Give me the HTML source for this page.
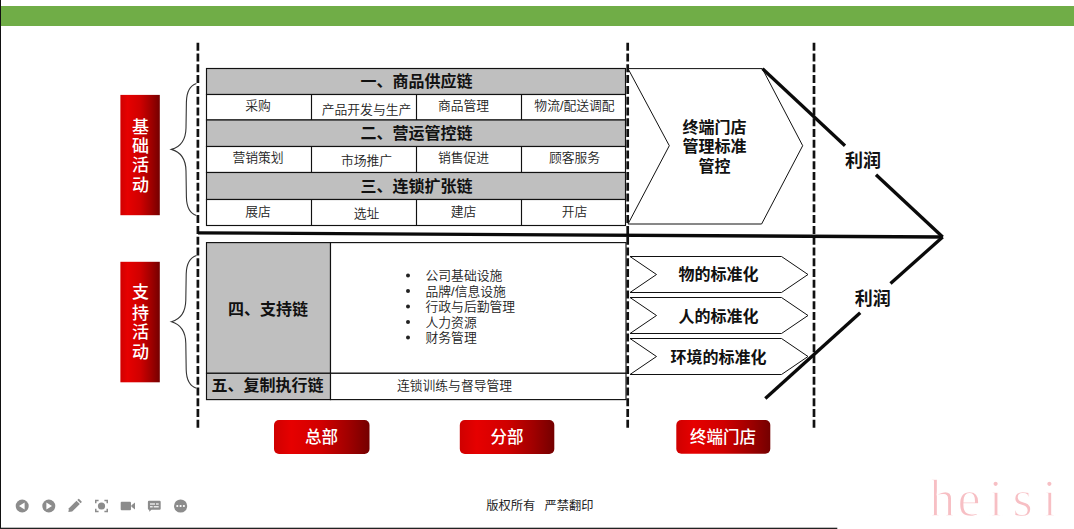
<!DOCTYPE html>
<html lang="zh-CN">
<head>
<meta charset="utf-8">
<title>连锁价值链</title>
<style>
html,body{margin:0;padding:0;background:#fff;}
body{width:1074px;height:529px;overflow:hidden;position:relative;font-family:"Liberation Sans","Noto Sans CJK SC",sans-serif;}
svg{position:absolute;left:0;top:0;display:block;}
text{font-family:"Liberation Sans","Noto Sans CJK SC",sans-serif;}
.h{font-weight:700;font-size:16px;fill:#111;text-anchor:middle;}
.c{font-weight:350;font-size:12.8px;fill:#222;text-anchor:middle;}
.b{font-weight:350;font-size:12.8px;fill:#222;}
.v{font-weight:500;font-size:17px;fill:#fff;text-anchor:middle;}
.btn{font-weight:500;font-size:16.500px;fill:#fff;text-anchor:middle;}
.p{font-weight:700;font-size:18px;fill:#111;text-anchor:middle;}
.s{font-weight:700;font-size:16px;fill:#111;text-anchor:middle;}
</style>
</head>
<body>
<svg width="1074" height="529" viewBox="0 0 1074 529">
<defs>
<linearGradient id="rg" x1="0" y1="0" x2="1" y2="0">
<stop offset="0" stop-color="#cf0000"/>
<stop offset="0.18" stop-color="#e60000"/>
<stop offset="0.5" stop-color="#d00000"/>
<stop offset="0.78" stop-color="#a00000"/>
<stop offset="1" stop-color="#740000"/>
</linearGradient>
</defs>
<!-- frame -->
<rect x="0" y="0" width="1074" height="529" fill="#fff"/>
<rect x="0" y="6" width="1074" height="20" fill="#70ad47"/>
<rect x="0" y="0" width="1" height="529" fill="#111"/>
<rect x="0" y="527.700" width="837.300" height="1.300" fill="#222"/>

<!-- dashed verticals -->
<g stroke="#111" stroke-width="2.700" stroke-dasharray="8 2.770" fill="none">
<line x1="197.900" y1="42.800" x2="197.900" y2="427.900"/>
<line x1="627.700" y1="42.800" x2="627.700" y2="427.900"/>
<line x1="814" y1="42.800" x2="814" y2="427.900"/>
</g>

<!-- upper table -->
<g stroke="#111" stroke-width="1.150">
<rect x="206.5" y="68.5" width="419" height="26" fill="#bfbfbf"/>
<rect x="206.5" y="94.5" width="419" height="25.5" fill="#fff"/>
<rect x="206.5" y="120" width="419" height="26.5" fill="#bfbfbf"/>
<rect x="206.5" y="146.5" width="419" height="26" fill="#fff"/>
<rect x="206.5" y="172.5" width="419" height="27" fill="#bfbfbf"/>
<rect x="206.5" y="199.5" width="419" height="26" fill="#fff"/>
<path d="M311.5 94.500V120M416.500 94.500V120M521.500 94.500V120M311.500 146.500V172.500M416.500 146.500V172.500M521.500 146.500V172.500M311.500 199.500V225.500M416.500 199.500V225.500M521.500 199.500V225.500" fill="none"/>
</g>
<text class="h" x="416.500" y="87">一、商品供应链</text>
<text class="h" x="416.500" y="139">二、营运管控链</text>
<text class="h" x="416.500" y="192">三、连锁扩张链</text>
<text class="c" x="258" y="110.400">采购</text>
<text class="c" x="366.500" y="113.500">产品开发与生产</text>
<text class="c" x="463.500" y="110.400">商品管理</text>
<text class="c" x="574.500" y="110.400">物流/配送调配</text>
<text class="c" x="258" y="162">营销策划</text>
<text class="c" x="366.500" y="165">市场推广</text>
<text class="c" x="463.500" y="162">销售促进</text>
<text class="c" x="574.500" y="162">顾客服务</text>
<text class="c" x="258" y="216">展店</text>
<text class="c" x="366.500" y="218">选址</text>
<text class="c" x="463.500" y="216">建店</text>
<text class="c" x="574.500" y="216">开店</text>

<!-- lower table -->
<g stroke="#111" stroke-width="1.150">
<rect x="206.500" y="242.600" width="124" height="130.700" fill="#bfbfbf"/>
<rect x="330.500" y="242.600" width="295.500" height="130.700" fill="#fff"/>
<rect x="206.500" y="373.300" width="124" height="26.300" fill="#bfbfbf"/>
<rect x="330.500" y="373.300" width="295.500" height="26.300" fill="#fff"/>
</g>
<text class="h" x="268" y="315">四、支持链</text>
<text class="h" x="267.500" y="391">五、复制执行链</text>
<g class="b">
<text x="425.500" y="280">公司基础设施</text>
<text x="425.500" y="295.500">品牌/信息设施</text>
<text x="425.500" y="311">行政与后勤管理</text>
<text x="425.500" y="326.500">人力资源</text>
<text x="425.500" y="342">财务管理</text>
</g>
<g fill="#222">
<circle cx="408" cy="275.500" r="2"/><circle cx="408" cy="291" r="2"/><circle cx="408" cy="306.500" r="2"/><circle cx="408" cy="322" r="2"/><circle cx="408" cy="337.500" r="2"/>
</g>
<text class="c" x="454.500" y="390">连锁训练与督导管理</text>

<!-- big chevron -->
<path d="M628 68.600H762.300L802.700 145.700L761.600 224H628L669.300 145.700Z" fill="#fff" stroke="#111" stroke-width="1"/>
<text class="s" x="714.500" y="132.700">终端门店</text>
<text class="s" x="714.500" y="152.400">管理标准</text>
<text class="s" x="714.500" y="172.100">管控</text>

<!-- small chevrons -->
<g fill="#fff" stroke="#111" stroke-width="1">
<path d="M630 256.500H781.500L808 274.500L781.500 292.500H630L656.500 274.500Z"/>
<path d="M630 297.500H781.500L808 315.500L781.500 333.500H630L656.500 315.500Z"/>
<path d="M630 338.500H781.500L808 356.500L781.500 374.500H630L656.500 356.500Z"/>
</g>
<text class="s" x="718.500" y="280">物的标准化</text>
<text class="s" x="718.500" y="321.500">人的标准化</text>
<text class="s" x="718.500" y="362.500">环境的标准化</text>

<!-- thick lines -->
<g stroke="#0a0a0a" stroke-width="3.300" fill="none" stroke-linecap="butt" stroke-linejoin="miter">
<path d="M198 232.900L942.700 237"/>
<path d="M762.500 68.600L845 145.700"/>
<path d="M876 174.700L942.700 237"/>
<path d="M942.700 237L890.500 283.500"/>
<path d="M860.200 312.700L765.300 398.500"/>
</g>
<text class="p" x="863" y="166.800">利润</text>
<text class="p" x="872.700" y="304.800">利润</text>

<!-- red boxes -->
<rect x="120.400" y="94.900" width="39.400" height="120.300" fill="url(#rg)"/>
<rect x="120.400" y="261.800" width="39.400" height="120.500" fill="url(#rg)"/>
<g class="v">
<text x="140.500" y="132.800">基</text><text x="140.500" y="152.200">础</text><text x="140.500" y="171.200">活</text><text x="140.500" y="190.900">动</text>
<text x="140.500" y="298.300">支</text><text x="140.500" y="318.500">持</text><text x="140.500" y="338.300">活</text><text x="140.500" y="357.700">动</text>
</g>

<!-- braces -->
<g stroke="#333" stroke-width="1.100" fill="none">
<path d="M196.4 83.6C189.0 86.0 186.6 93.1 186.4 102.1L186.0 127.9C185.8 137.9 182.0 146.4 171.4 149.4C182.0 152.4 185.8 160.9 186.0 170.9L186.4 196.9C186.6 205.9 189.0 213.0 196.4 215.4"/>
<path d="M196.5 255.5C189.1 257.9 186.4 265.0 186.2 274.0L185.8 300.3C185.6 310.3 181.8 318.8 171.5 321.8C181.8 324.8 185.6 333.3 185.8 343.3L186.2 369.7C186.4 378.7 189.1 385.8 196.5 388.2"/>
</g>

<!-- buttons -->
<rect x="274" y="420" width="95.500" height="34" rx="5" fill="url(#rg)"/>
<rect x="459.800" y="420" width="94.500" height="34" rx="5" fill="url(#rg)"/>
<rect x="676.300" y="420" width="94" height="33.700" rx="5" fill="url(#rg)"/>
<text class="btn" x="321.500" y="443.200">总部</text>
<text class="btn" x="507" y="443.200">分部</text>
<text class="btn" x="723" y="443.200">终端门店</text>

<!-- footer -->
<text y="510" style="font-size:12.250px;font-weight:400;fill:#222"><tspan x="486.300">版权所有 </tspan><tspan x="544.600">严禁翻印</tspan></text>
<text x="929.300 957.500 988.700 1012.500 1042.500" y="515.700" style="font-family:'Liberation Serif',serif;font-size:52px;fill:#f7bfc4;stroke:#fff;stroke-width:1.300px">heisi</text>

<!-- toolbar icons -->
<g fill="#8c8c8c">
<circle cx="22.200" cy="506" r="6.500"/>
<circle cx="48.800" cy="506" r="6.500"/>
<circle cx="180.600" cy="506" r="6.600"/>
<path d="M68.400 512.100L68.900 508.300L76.500 500.700L79.800 504L72.200 511.600Z"/>
<path d="M77.300 499.900L78.300 498.900Q78.700 498.500 79.100 498.900L81.600 501.400Q82 501.800 81.600 502.200L80.600 503.200Z"/>
<circle cx="101.500" cy="506" r="3.600"/>
<path d="M95 503.300V499.700H98.600V501.200H96.500V503.300ZM104.400 499.700H108V503.300H106.500V501.200H104.400ZM95 508.700V512.300H98.600V510.800H96.500V508.700ZM108 508.700V512.300H104.400V510.800H106.500V508.700Z"/>
<rect x="120.700" y="501.800" width="10.300" height="8.400" rx="1"/>
<path d="M131.400 505.200L135 502.600V509.400L131.400 506.800Z"/>
<path d="M149 500.800H159.600Q160.700 500.800 160.700 501.900V508.700Q160.700 509.800 159.600 509.800H151.500L149.200 511.800V509.800H149Q147.900 509.800 147.900 508.700V501.900Q147.900 500.800 149 500.800Z"/>
</g>
<g fill="#fff">
<path d="M19 506L24.600 502.600V509.400Z"/>
<path d="M52 506L46.400 502.600V509.400Z"/>
<circle cx="177.300" cy="506" r="1.100"/><circle cx="180.600" cy="506" r="1.100"/><circle cx="183.900" cy="506" r="1.100"/>
<rect x="150" y="503.400" width="5" height="1.200"/><rect x="156" y="503.400" width="2.700" height="1.200"/>
<rect x="150" y="506.200" width="2.700" height="1.200"/><rect x="153.700" y="506.200" width="5" height="1.200"/>
</g>
</svg>
</body>
</html>
